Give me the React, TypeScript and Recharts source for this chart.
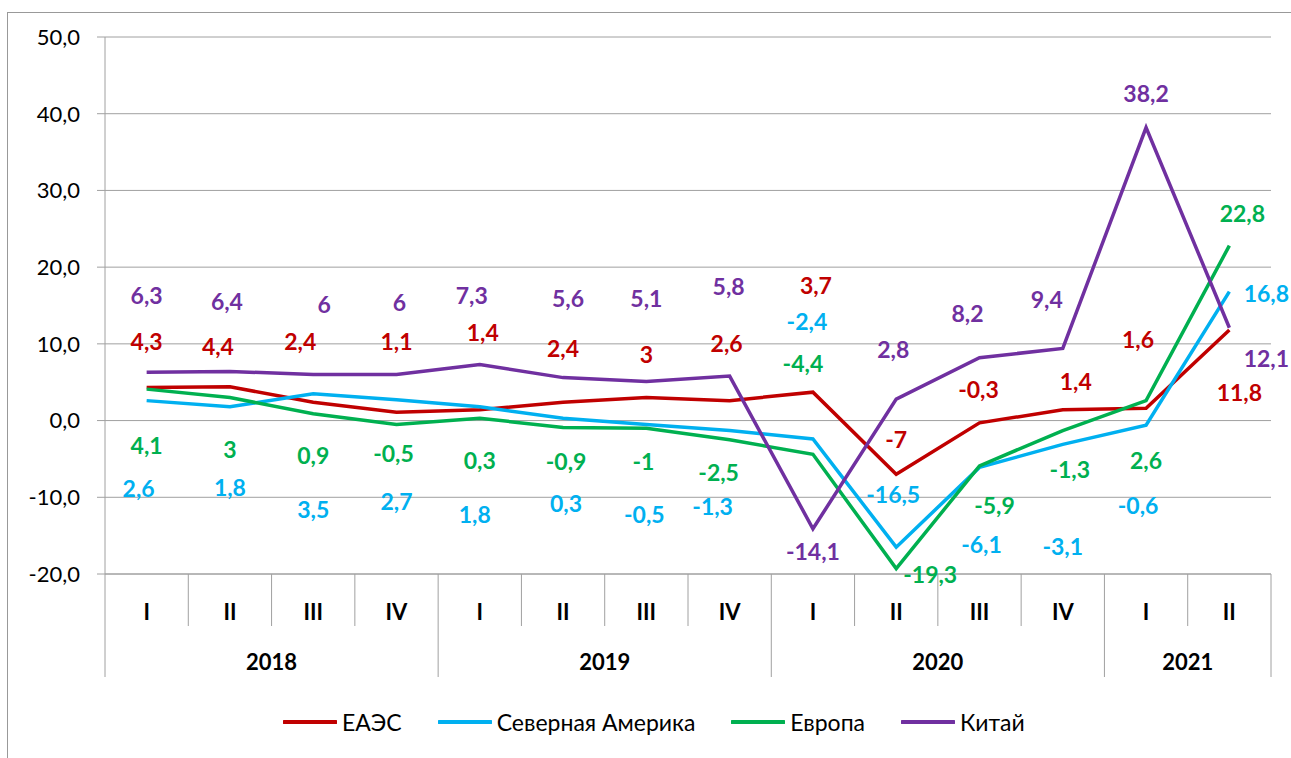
import React from "react";
import { LineChart, Line, XAxis, YAxis, CartesianGrid, Legend, LabelList } from "recharts";

// Quarter / year categories
const quarters = ["I", "II", "III", "IV", "I", "II", "III", "IV", "I", "II", "III", "IV", "I", "II"];
const years = ["2018", "2018", "2018", "2018", "2019", "2019", "2019", "2019", "2020", "2020", "2020", "2020", "2021", "2021"];

// Series values, %
const eaes = [4.3, 4.4, 2.4, 1.1, 1.4, 2.4, 3, 2.6, 3.7, -7, -0.3, 1.4, 1.6, 11.8];
const northAmerica = [2.6, 1.8, 3.5, 2.7, 1.8, 0.3, -0.5, -1.3, -2.4, -16.5, -6.1, -3.1, -0.6, 16.8];
const europe = [4.1, 3, 0.9, -0.5, 0.3, -0.9, -1, -2.5, -4.4, -19.3, -5.9, -1.3, 2.6, 22.8];
const china = [6.3, 6.4, 6, 6, 7.3, 5.6, 5.1, 5.8, -14.1, 2.8, 8.2, 9.4, 38.2, 12.1];

const yTicks = [-20, -10, 0, 10, 20, 30, 40, 50];

// Label nudges (dx, dy) from each point, as placed by hand in the original
const eaesLabelPos = [[0, -46], [-12, -40], [-13, -60], [0, -70], [3, -77], [0, -53], [0, -43], [-3, -57], [3, -106], [0, -34], [-1, -33], [13, -28], [-8, -68], [10, 63]];
const northAmericaLabelPos = [[-8, 88], [0, 81], [0, 116], [0, 102], [-5, 108], [3, 86], [-2, 91], [-17, 76], [-6, -117], [-3, -52], [2, 78], [0, 103], [-8, 81], [37, 2]];
const europeLabelPos = [[0, 57], [0, 52], [0, 42], [-3, 30], [0, 43], [3, 34], [-3, 34], [-11, 33], [-10, -90], [34, 6], [15, 40], [7, 39], [0, 60], [13, -32]];
const chinaLabelPos = [[0, -76], [-3, -70], [11, -70], [3, -72], [-8, -69], [5, -79], [0, -82], [-1, -89], [0, 23], [-3, -49], [-12, -44], [-16, -49], [0, -34], [37, 31]];

const series = [
  { key: "eaes", name: "ЕАЭС", color: "#C00000", values: eaes, pos: eaesLabelPos },
  { key: "na", name: "Северная Америка", color: "#00B0F0", values: northAmerica, pos: northAmericaLabelPos },
  { key: "eu", name: "Европа", color: "#00B050", values: europe, pos: europeLabelPos },
  { key: "cn", name: "Китай", color: "#7030A0", values: china, pos: chinaLabelPos },
];

const data = quarters.map((q, i) => {
  const row: Record<string, number | string> = { cat: `${years[i]}-${q}` };
  series.forEach((s) => {
    row[s.key] = s.values[i];
  });
  return row;
});

const W = 1291;
const H = 758;
const PLOT_LEFT = 105;
const PLOT_RIGHT = 1271;
const PLOT_TOP = 37;
const PLOT_BOTTOM = 574;
const QUARTER_BOTTOM = 626;
const YEAR_BOTTOM = 677;
const BAND = (PLOT_RIGHT - PLOT_LEFT) / quarters.length;
const GRID = "#a0a0a0";
const FONT = "Lato, 'Open Sans', sans-serif";

const fmt = (v: number) => String(v).replace(".", ",");

function CategoryTick(props: any) {
  const { x, index } = props;
  const yearStart = index === 0 || years[index] !== years[index - 1];
  const left = x - BAND / 2;
  const n = years.filter((y) => y === years[index]).length;
  return (
    <g>
      <line x1={left} x2={left} y1={PLOT_BOTTOM} y2={yearStart ? YEAR_BOTTOM : QUARTER_BOTTOM} stroke={GRID} />
      {index === quarters.length - 1 && (
        <line x1={x + BAND / 2} x2={x + BAND / 2} y1={PLOT_BOTTOM} y2={YEAR_BOTTOM} stroke={GRID} />
      )}
      <text x={x} y={612} dy="0.35em" textAnchor="middle" fontFamily={FONT} fontSize={22} fontWeight="bold" fill="#000">
        {quarters[index]}
      </text>
      {yearStart && (
        <text x={x + ((n - 1) * BAND) / 2} y={662} dy="0.35em" textAnchor="middle" fontFamily={FONT} fontSize={22} fontWeight="bold" fill="#000">
          {years[index]}
        </text>
      )}
    </g>
  );
}

function makeLabel(color: string, pos: number[][]) {
  return (props: any) => {
    const { x, y, value, index } = props;
    const [dx, dy] = pos[index] || [0, 0];
    return (
      <text x={x + dx} y={y + dy} dy="0.35em" textAnchor="middle" fontFamily={FONT} fontSize={23} fontWeight="bold" fill={color}>
        {fmt(value)}
      </text>
    );
  };
}

function LegendContent() {
  return (
    <div style={{ display: "flex", alignItems: "center", fontFamily: FONT, fontSize: 23, color: "#000", whiteSpace: "nowrap" }}>
      {series.map((s, i) => (
        <div key={s.key} style={{ display: "flex", alignItems: "center", marginLeft: i === 0 ? 0 : 36 }}>
          <svg width={54} height={8}>
            <line x1={1} x2={53} y1={4} y2={4} stroke={s.color} strokeWidth={4} strokeLinecap="round" />
          </svg>
          <span style={{ marginLeft: 5 }}>{s.name}</span>
        </div>
      ))}
    </div>
  );
}

export default function App() {
  return (
    <div style={{ position: "absolute", left: 0, top: 0, width: W, height: H, overflow: "hidden", background: "#fff" }}>
      <div style={{ position: "absolute", left: 7, top: 12, width: W, height: H, borderTop: "1px solid #999", borderLeft: "1px solid #999" }} />
      <div style={{ position: "absolute", left: 0, top: 0 }}>
        <LineChart width={W} height={H} data={data} margin={{ top: PLOT_TOP, right: W - PLOT_RIGHT, bottom: H - PLOT_BOTTOM - 110, left: 0 }}>
          <CartesianGrid vertical={false} stroke={GRID} />
          <XAxis
            dataKey="cat"
            interval={0}
            height={110}
            padding={{ left: BAND / 2, right: BAND / 2 }}
            tickLine={false}
            axisLine={{ stroke: GRID }}
            tick={<CategoryTick />}
          />
          <YAxis
            width={PLOT_LEFT}
            domain={[-20, 50]}
            ticks={yTicks}
            tickFormatter={(v: number) => v.toFixed(1).replace(".", ",")}
            axisLine={{ stroke: GRID }}
            tickLine={{ stroke: GRID }}
            tickSize={8}
            tickMargin={17}
            tick={{ fontFamily: FONT, fontSize: 22, fill: "#000" }}
          />
          <Legend
            verticalAlign="middle"
            align="center"
            layout="horizontal"
            wrapperStyle={{ position: "absolute", top: 708, left: 283, width: 900, height: 30 }}
            content={<LegendContent />}
          />
          {series.map((s) => (
            <Line
              key={s.key}
              type="linear"
              dataKey={s.key}
              name={s.name}
              stroke={s.color}
              strokeWidth={3.5}
              dot={false}
              activeDot={false}
              isAnimationActive={false}
            >
              <LabelList dataKey={s.key} content={makeLabel(s.color, s.pos)} />
            </Line>
          ))}
        </LineChart>
      </div>
    </div>
  );
}
